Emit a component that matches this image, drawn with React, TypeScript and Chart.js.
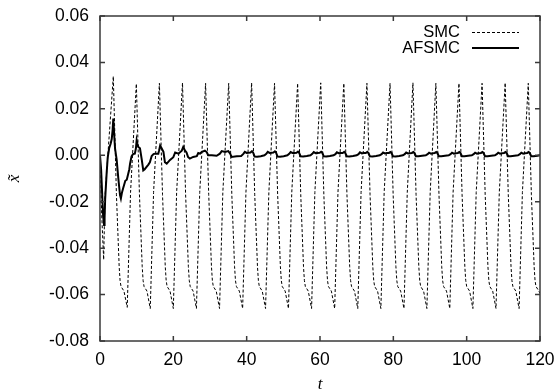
import React, { useEffect, useRef } from 'react';
import { Chart, registerables } from 'chart.js';

Chart.register(...registerables);

// ---- data ----
const seriesNames = ['SMC', 'AFSMC'];
const xTickValues = [0, 20, 40, 60, 80, 100, 120];
const yTickValues = [-0.08, -0.06, -0.04, -0.02, 0.0, 0.02, 0.04, 0.06];
const xTitle = 't';
const yTitle = 'x\u0303';

// SMC (dashed) : time values
const smcT = [
  0, 0.45, 1.0, 1.35,
  3.63, 4.48, 5.23, 5.48, 5.73, 6.53, 7.43, 8.33,
  9.91, 10.76, 11.51, 11.76, 12.01, 12.81, 13.71, 14.61,
  16.2, 17.05, 17.8, 18.05, 18.3, 19.1, 20.0, 20.9,
  22.5, 23.35, 24.1, 24.35, 24.6, 25.4, 26.3, 27.2,
  28.8, 29.65, 30.4, 30.65, 30.9, 31.7, 32.6, 33.5,
  35.1, 35.95, 36.7, 36.95, 37.2, 38.0, 38.9, 39.8,
  41.35, 42.2, 42.95, 43.2, 43.45, 44.25, 45.15, 46.05,
  47.6, 48.45, 49.2, 49.45, 49.7, 50.5, 51.4, 52.3,
  53.9, 54.75, 55.5, 55.75, 56.0, 56.8, 57.7, 58.6,
  60.2, 61.05, 61.8, 62.05, 62.3, 63.1, 64.0, 64.9,
  66.5, 67.35, 68.1, 68.35, 68.6, 69.4, 70.3, 71.2,
  72.8, 73.65, 74.4, 74.65, 74.9, 75.7, 76.6, 77.5,
  79.1, 79.95, 80.7, 80.95, 81.2, 82.0, 82.9, 83.8,
  85.35, 86.2, 86.95, 87.2, 87.45, 88.25, 89.15, 90.05,
  91.6, 92.45, 93.2, 93.45, 93.7, 94.5, 95.4, 96.3,
  97.9, 98.75, 99.5, 99.75, 100.0, 100.8, 101.7, 102.6,
  104.2, 105.05, 105.8, 106.05, 106.3, 107.1, 108.0, 108.9,
  110.5, 111.35, 112.1, 112.35, 112.6, 113.4, 114.3, 115.2,
  116.8, 117.65, 118.4, 118.65, 118.9, 119.7, 120,
];
// SMC (dashed) : values
const smcY = [
  0, -0.025, -0.045, -0.018,
  0.034, -0.017, -0.048, -0.054, -0.0565, -0.0585, -0.0655, -0.016,
  0.0308, -0.017, -0.048, -0.054, -0.0565, -0.0585, -0.066, -0.016,
  0.031, -0.017, -0.048, -0.054, -0.0565, -0.0585, -0.066, -0.016,
  0.0312, -0.017, -0.048, -0.054, -0.0565, -0.0585, -0.066, -0.016,
  0.031, -0.017, -0.048, -0.054, -0.0565, -0.0585, -0.066, -0.016,
  0.031, -0.017, -0.048, -0.054, -0.0565, -0.0585, -0.066, -0.016,
  0.0312, -0.017, -0.048, -0.054, -0.0565, -0.0585, -0.066, -0.016,
  0.031, -0.017, -0.048, -0.054, -0.0565, -0.0585, -0.066, -0.016,
  0.031, -0.017, -0.048, -0.054, -0.0565, -0.0585, -0.066, -0.016,
  0.0312, -0.017, -0.048, -0.054, -0.0565, -0.0585, -0.066, -0.016,
  0.031, -0.017, -0.048, -0.054, -0.0565, -0.0585, -0.066, -0.016,
  0.031, -0.017, -0.048, -0.054, -0.0565, -0.0585, -0.066, -0.016,
  0.031, -0.017, -0.048, -0.054, -0.0565, -0.0585, -0.066, -0.016,
  0.0312, -0.017, -0.048, -0.054, -0.0565, -0.0585, -0.066, -0.016,
  0.031, -0.017, -0.048, -0.054, -0.0565, -0.0585, -0.066, -0.016,
  0.031, -0.017, -0.048, -0.054, -0.0565, -0.0585, -0.066, -0.016,
  0.031, -0.017, -0.048, -0.054, -0.0565, -0.0585, -0.066, -0.016,
  0.0312, -0.017, -0.048, -0.054, -0.0565, -0.0585, -0.066, -0.016,
  0.031, -0.017, -0.048, -0.054, -0.0565, -0.0585, -0.0595,
];

// AFSMC (solid) : time values
const afT = [
  0, 0.3, 0.6, 0.85, 1.1, 1.25, 1.4, 1.8, 2.1, 2.5, 2.9, 3.2, 3.45, 3.63, 3.9, 4.1, 4.55,
  5.0, 5.45, 5.7, 6.0, 6.35, 6.9, 7.3, 7.7, 8.0, 8.2, 8.6, 9.0, 9.5, 9.8, 10.0, 10.2, 10.45,
  10.9, 11.4, 11.8, 12.2, 12.7, 13.2, 13.6, 14.1, 14.6, 15.0, 15.9, 16.1, 16.4, 16.8, 17.3,
  17.7, 18.2, 19.1, 20.0, 20.5, 21.4, 22.3, 22.7, 23.2, 23.6, 24.0, 24.5, 25.4, 26.4, 26.8,
  27.3, 27.7, 28.6, 29.1, 29.5, 30.5, 31.8, 32.7, 33.2, 34.1, 35.0, 35.5, 35.9, 37.3, 38.5,
  39.1, 39.5, 40.0, 40.5,
  41.05, 41.45, 41.75, 42.15, 42.85, 43.85, 44.85, 45.35, 45.75, 46.25, 46.75,
  47.3, 47.7, 48.0, 48.4, 49.1, 50.1, 51.1, 51.6, 52.0, 52.5, 53.0,
  53.6, 54.0, 54.3, 54.7, 55.4, 56.4, 57.4, 57.9, 58.3, 58.8, 59.3,
  59.9, 60.3, 60.6, 61.0, 61.7, 62.7, 63.7, 64.2, 64.6, 65.1, 65.6,
  66.2, 66.6, 66.9, 67.3, 68.0, 69.0, 70.0, 70.5, 70.9, 71.4, 71.9,
  72.5, 72.9, 73.2, 73.6, 74.3, 75.3, 76.3, 76.8, 77.2, 77.7, 78.2,
  78.8, 79.2, 79.5, 79.9, 80.6, 81.6, 82.6, 83.1, 83.5, 84.0, 84.5,
  85.05, 85.45, 85.75, 86.15, 86.85, 87.85, 88.85, 89.35, 89.75, 90.25, 90.75,
  91.3, 91.7, 92.0, 92.4, 93.1, 94.1, 95.1, 95.6, 96.0, 96.5, 97.0,
  97.6, 98.0, 98.3, 98.7, 99.4, 100.4, 101.4, 101.9, 102.3, 102.8, 103.3,
  103.9, 104.3, 104.6, 105.0, 105.7, 106.7, 107.7, 108.2, 108.6, 109.1, 109.6,
  110.2, 110.6, 110.9, 111.3, 112.0, 113.0, 114.0, 114.5, 114.9, 115.4, 115.9,
  116.5, 116.9, 117.2, 117.6, 118.3, 119.3, 120,
];
// AFSMC (solid) : values
const afY = [
  0, -0.006, -0.017, -0.026, -0.03, -0.027, -0.019, -0.008, -0.001, 0.003, 0.005, 0.007, 0.011, 0.0158, 0.008, 0.003, -0.002,
  -0.01, -0.017, -0.0186, -0.016, -0.014, -0.011, -0.0105, -0.008, -0.006, -0.0036, -0.0005, 0.0005, 0.0007, 0.003, 0.0065, 0.005, 0.0036,
  0.003, -0.002, -0.0065, -0.006, -0.005, -0.004, -0.003, -0.0003, 0.0005, 0.0007, 0.0007, 0.002, 0.0042, 0.003, 0.0015,
  -0.003, -0.0036, -0.002, -0.0008, 0.0012, 0.0007, 0.002, 0.0036, 0.002, 0.0012, -0.0007, -0.0014, -0.0007, -0.0004, 0.001,
  0.0007, 0.0014, 0.002, 0.0014, 0.0, 0.0, -0.0002, 0.0007, 0.0018, 0.0014, 0.0018, 0.0007, -0.0007, -0.0004, -0.0003,
  0.0006, 0.0015, 0.001, 0.0011,
  0.0012, 0.0018, 0.0012, -0.0005, -0.0006, -0.0004, 0.0, 0.0006, 0.0015, 0.001, 0.0011,
  0.0012, 0.0017, 0.0012, -0.0005, -0.0006, -0.0004, 0.0, 0.0006, 0.0014, 0.001, 0.001,
  0.0011, 0.0016, 0.0011, -0.0004, -0.0005, -0.0003, 0.0, 0.0006, 0.0014, 0.0009, 0.001,
  0.0011, 0.0015, 0.0011, -0.0004, -0.0005, -0.0003, 0.0, 0.0005, 0.0013, 0.0009, 0.001,
  0.001, 0.0015, 0.001, -0.0004, -0.0005, -0.0003, 0.0, 0.0005, 0.0013, 0.0008, 0.001,
  0.001, 0.0015, 0.001, -0.0004, -0.0005, -0.0003, 0.0, 0.0005, 0.0012, 0.0008, 0.001,
  0.001, 0.0014, 0.001, -0.0004, -0.0005, -0.0003, 0.0, 0.0005, 0.0012, 0.0008, 0.0009,
  0.001, 0.0014, 0.001, -0.0004, -0.0004, -0.0002, 0.0, 0.0005, 0.0011, 0.0007, 0.0009,
  0.001, 0.0014, 0.001, -0.0004, -0.0004, -0.0002, 0.0, 0.0005, 0.0011, 0.0007, 0.0009,
  0.001, 0.0014, 0.001, -0.0004, -0.0004, -0.0002, 0.0, 0.0005, 0.0011, 0.0007, 0.0009,
  0.001, 0.0014, 0.001, -0.0004, -0.0004, -0.0002, 0.0, 0.0005, 0.0011, 0.0007, 0.0009,
  0.001, 0.0014, 0.001, -0.0004, -0.0004, -0.0002, 0.0, 0.0005, 0.0011, 0.0007, 0.0009,
  0.001, 0.0014, 0.001, -0.0004, -0.0004, -0.0002, 0.0,
];

const W = 558;
const H = 391;
const TICK_FONT = '"Liberation Sans", Arial, sans-serif';
const TITLE_FONT = '"Liberation Serif", "Times New Roman", serif';

const framePlugin = {
  id: 'gnuplotFrame',
  afterDatasetsDraw(chart: any) {
    const { ctx, chartArea: a, scales } = chart;
    const xs = scales.x;
    const ys = scales.y;
    ctx.save();
    ctx.strokeStyle = '#3a3a3a';
    ctx.lineWidth = 1.5;
    ctx.setLineDash([]);
    ctx.strokeRect(a.left, a.top, a.right - a.left, a.bottom - a.top);
    const tl = 5;
    ctx.beginPath();
    xTickValues.forEach((v) => {
      const px = xs.getPixelForValue(v);
      ctx.moveTo(px, a.bottom);
      ctx.lineTo(px, a.bottom - tl);
      ctx.moveTo(px, a.top);
      ctx.lineTo(px, a.top + tl);
    });
    yTickValues.forEach((v) => {
      const py = ys.getPixelForValue(v);
      ctx.moveTo(a.left, py);
      ctx.lineTo(a.left + tl, py);
      ctx.moveTo(a.right, py);
      ctx.lineTo(a.right - tl, py);
    });
    ctx.stroke();

    // key (legend), gnuplot style: text then line sample
    const textRight = a.right - 80;
    const lineX0 = a.right - 68;
    const lineX1 = a.right - 21;
    const rows = [a.top + 16, a.top + 32];
    ctx.fillStyle = '#000';
    ctx.font = '16.5px ' + TICK_FONT;
    ctx.textAlign = 'right';
    ctx.textBaseline = 'middle';
    seriesNames.forEach((name, i) => {
      const y = rows[i];
      ctx.fillText(name, textRight, y);
      ctx.beginPath();
      ctx.strokeStyle = '#000';
      if (i === 0) {
        ctx.lineWidth = 1;
        ctx.setLineDash([3, 2]);
        ctx.moveTo(lineX0, Math.round(y) + 0.5);
        ctx.lineTo(lineX1, Math.round(y) + 0.5);
      } else {
        ctx.lineWidth = 2;
        ctx.setLineDash([]);
        ctx.moveTo(lineX0, Math.round(y));
        ctx.lineTo(lineX1, Math.round(y));
      }
      ctx.stroke();
    });
    ctx.restore();
  },
};

export default function App() {
  const ref = useRef<HTMLCanvasElement | null>(null);

  useEffect(() => {
    if (!ref.current) return;
    const smcData = smcT.map((t, i) => ({ x: t, y: smcY[i] }));
    const afData = afT.map((t, i) => ({ x: t, y: afY[i] }));
    const chart = new Chart(ref.current, {
      type: 'scatter',
      data: {
        datasets: [
          {
            label: seriesNames[1],
            data: afData,
            showLine: true,
            borderColor: '#000',
            borderWidth: 2,
            pointRadius: 0,
            tension: 0,
            fill: false,
            order: 0,
          },
          {
            label: seriesNames[0],
            data: smcData,
            showLine: true,
            borderColor: '#000',
            borderWidth: 1,
            borderDash: [3, 2],
            pointRadius: 0,
            tension: 0,
            fill: false,
            order: 1,
          },
        ],
      },
      options: {
        responsive: false,
        animation: false,
        devicePixelRatio: 1,
        layout: { padding: { top: 16, right: 18, left: 0, bottom: 0 } },
        plugins: {
          legend: { display: false },
          tooltip: { enabled: false },
        },
        scales: {
          x: {
            type: 'linear',
            min: 0,
            max: 120,
            afterBuildTicks: (scale: any) => {
              scale.ticks = xTickValues.map((v) => ({ value: v }));
            },
            afterFit: (scale: any) => {
              scale.height = 50;
              scale.paddingLeft = 0;
              scale.paddingRight = 0;
            },
            grid: { display: false, drawTicks: false },
            border: { display: false },
            ticks: {
              color: '#000',
              padding: 9,
              maxRotation: 0,
              autoSkip: false,
              font: { family: TICK_FONT, size: 17.5 },
              callback: (v: any) => String(v),
            },
            title: {
              display: true,
              text: xTitle,
              color: '#000',
              font: { family: TITLE_FONT, size: 17, style: 'italic' },
              padding: { top: 0, bottom: -4 },
            },
          },
          y: {
            type: 'linear',
            min: -0.08,
            max: 0.06,
            afterBuildTicks: (scale: any) => {
              scale.ticks = yTickValues.map((v) => ({ value: v }));
            },
            afterFit: (scale: any) => {
              scale.width = 100;
              scale.paddingTop = 0;
              scale.paddingBottom = 0;
            },
            grid: { display: false, drawTicks: false },
            border: { display: false },
            ticks: {
              color: '#000',
              padding: 11,
              autoSkip: false,
              font: { family: TICK_FONT, size: 17.5 },
              callback: (v: any) => {
                const n = Number(v);
                return Math.abs(n) < 1e-9 ? '0.00' : n.toFixed(2);
              },
            },
            title: {
              display: true,
              text: yTitle,
              color: '#000',
              font: { family: TITLE_FONT, size: 17, style: 'italic' },
              padding: { top: 4, bottom: 0 },
            },
          },
        },
      },
      plugins: [framePlugin],
    });
    return () => chart.destroy();
  }, []);

  return (
    <div style={{ position: 'fixed', left: 0, top: 0, width: W, height: H, background: '#fff' }}>
      <canvas ref={ref} width={W} height={H} style={{ display: 'block', width: W, height: H }} />
    </div>
  );
}
